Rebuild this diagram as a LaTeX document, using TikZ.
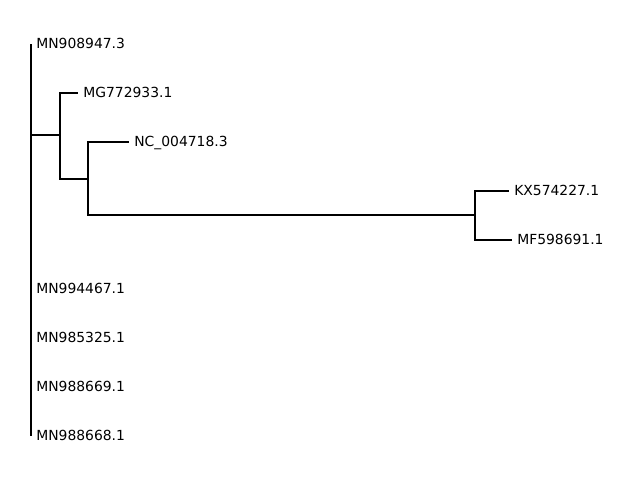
\documentclass[tikz,border=0pt]{standalone}
\usepackage{fontspec}
\setmainfont{DejaVu Sans}
\usepackage{tikz}

\begin{document}
\begin{tikzpicture}[x=0.72pt,y=-0.72pt,line width=1.1pt,
    tip/.style={anchor=west,inner sep=0pt,xshift=3.3pt,yshift=0.6pt,text height=7.3pt,text depth=0pt,font=\fontsize{10pt}{12pt}\selectfont}]
      \useasboundingbox (0,0) rectangle (640,480);
      % branch points
      \coordinate (root) at (31,135);
      \coordinate (c1) at (60,135);
      \coordinate (c2) at (88,179);
      \coordinate (c3) at (475,215);
      % tips
      \coordinate (t1) at (31,44);
      \coordinate (t2) at (78,93);
      \coordinate (t3) at (129,142);
      \coordinate (t4) at (509,191);
      \coordinate (t5) at (512,240);
      \coordinate (t6) at (31,289);
      \coordinate (t7) at (31,338);
      \coordinate (t8) at (31,387);
      \coordinate (t9) at (31,436);

      \node[tip] (MN908947) at (t1) {MN908947.3};
      \node[tip] (MG772933) at (t2) {MG772933.1};
      \node[tip] (NC004718) at (t3) {NC\_004718.3};
      \node[tip] (KX574227) at (t4) {KX574227.1};
      \node[tip] (MF598691) at (t5) {MF598691.1};
      \node[tip] (MN994467) at (t6) {MN994467.1};
      \node[tip] (MN985325) at (t7) {MN985325.1};
      \node[tip] (MN988669) at (t8) {MN988669.1};
      \node[tip] (MN988668) at (t9) {MN988668.1};

      \draw (t1) -- (t9);
      \draw (root) -- (c1);
      \draw (c1) |- (t2);
      \draw (c1) |- (c2);
      \draw (c2) |- (t3);
      \draw (c2) |- (c3);
      \draw (c3) |- (t4);
      \draw (c3) |- (t5);
    \end{tikzpicture}
\end{document}
